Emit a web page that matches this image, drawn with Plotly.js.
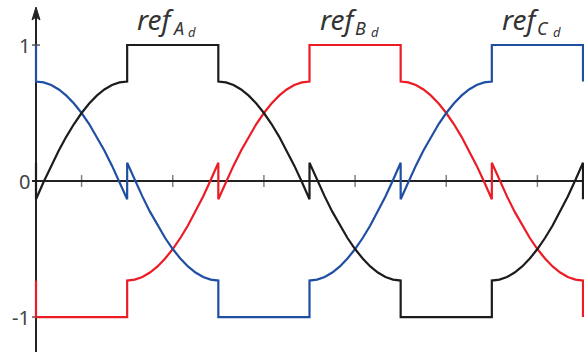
<!DOCTYPE html>
<html>
<head>
<meta charset="utf-8">
<script src="https://cdn.plot.ly/plotly-3.0.1.min.js"></script>
<style>
  html, body { margin: 0; padding: 0; background: #fff; }
  #chart { width: 584px; height: 352px; }
</style>
</head>
<body>
<div id="chart"></div>
<script>
// Electrical angle (degrees); repeated angles mark the jumps between 60° sectors.
const theta = [0,
  0,5,10,15,20,25,30,35,40,45,50,55,60,
  60,65,70,75,80,85,90,95,100,105,110,115,120,
  120,125,130,135,140,145,150,155,160,165,170,175,180,
  180,185,190,195,200,205,210,215,220,225,230,235,240,
  240,245,250,255,260,265,270,275,280,285,290,295,300,
  300,305,310,315,320,325,330,335,340,345,350,355,360,
  360];

// Discontinuous modulation references for the three phases.
const refA = [0.134,
  -0.134,-0.007,0.113,0.225,0.327,0.419,0.500,0.570,0.628,0.673,0.706,0.725,0.732,
  1,1,1,1,1,1,1,1,1,1,1,1,1,
  0.732,0.725,0.706,0.673,0.628,0.570,0.500,0.419,0.327,0.225,0.113,-0.007,-0.134,
  0.134,0.007,-0.113,-0.225,-0.327,-0.419,-0.500,-0.570,-0.628,-0.673,-0.706,-0.725,-0.732,
  -1,-1,-1,-1,-1,-1,-1,-1,-1,-1,-1,-1,-1,
  -0.732,-0.725,-0.706,-0.673,-0.628,-0.570,-0.500,-0.419,-0.327,-0.225,-0.113,0.007,0.134,
  -0.134];

const refB = [-0.732,
  -1,-1,-1,-1,-1,-1,-1,-1,-1,-1,-1,-1,-1,
  -0.732,-0.725,-0.706,-0.673,-0.628,-0.570,-0.500,-0.419,-0.327,-0.225,-0.113,0.007,0.134,
  -0.134,-0.007,0.113,0.225,0.327,0.419,0.500,0.570,0.628,0.673,0.706,0.725,0.732,
  1,1,1,1,1,1,1,1,1,1,1,1,1,
  0.732,0.725,0.706,0.673,0.628,0.570,0.500,0.419,0.327,0.225,0.113,-0.007,-0.134,
  0.134,0.007,-0.113,-0.225,-0.327,-0.419,-0.500,-0.570,-0.628,-0.673,-0.706,-0.725,-0.732,
  -1];

const refC = [1,
  0.732,0.725,0.706,0.673,0.628,0.570,0.500,0.419,0.327,0.225,0.113,-0.007,-0.134,
  0.134,0.007,-0.113,-0.225,-0.327,-0.419,-0.500,-0.570,-0.628,-0.673,-0.706,-0.725,-0.732,
  -1,-1,-1,-1,-1,-1,-1,-1,-1,-1,-1,-1,-1,
  -0.732,-0.725,-0.706,-0.673,-0.628,-0.570,-0.500,-0.419,-0.327,-0.225,-0.113,0.007,0.134,
  -0.134,-0.007,0.113,0.225,0.327,0.419,0.500,0.570,0.628,0.673,0.706,0.725,0.732,
  1,1,1,1,1,1,1,1,1,1,1,1,1,
  0.732];

// Axis ticks and labels
const xTicks = [30, 90, 150, 210, 270, 330];
const yTicks = [1, 0, -1];
const yTickText = ['1', '0', '-1'];
const phaseNames = ['A', 'B', 'C'];

const W = 584, H = 352;
const X0 = -23.69, X1 = 360.66, Y0 = -1.257, Y1 = 1.331;
const pxX = px => px / W;          // paper x from a pixel column
const pxY = py => 1 - py / H;      // paper y from a pixel row

const colors = { A: '#1c1c1c', B: '#ec1c24', C: '#1f4fa3' };
const textFont = 'Noto Sans';

const traces = [
  { x: theta, y: refB, mode: 'lines', line: { color: colors.B, width: 2.2 }, hoverinfo: 'skip' },
  { x: theta, y: refC, mode: 'lines', line: { color: colors.C, width: 2.2 }, hoverinfo: 'skip' },
  { x: theta, y: refA, mode: 'lines', line: { color: colors.A, width: 2.2 }, hoverinfo: 'skip' }
];

const shapes = [];
// x ticks across the horizontal axis
xTicks.forEach(t => shapes.push({
  type: 'line', xref: 'x', yref: 'y', x0: t, x1: t, y0: -0.044, y1: 0.044,
  line: { color: '#808080', width: 1.5 }, layer: 'below'
}));
// y ticks across the vertical axis
yTicks.forEach(v => shapes.push({
  type: 'line', xref: 'x', yref: 'y', x0: -2.6, x1: 2.6, y0: v, y1: v,
  line: { color: '#555', width: 1.5 }, layer: 'below'
}));
// horizontal axis
shapes.push({ type: 'line', xref: 'x', yref: 'y', x0: -2.6, x1: X1, y0: 0, y1: 0,
  line: { color: '#222', width: 2 }, layer: 'below' });
// vertical axis with arrowhead
shapes.push({ type: 'line', xref: 'x', yref: 'paper', x0: 0, x1: 0, y0: 0, y1: pxY(17),
  line: { color: '#222', width: 2 }, layer: 'below' });
shapes.push({ type: 'path', xref: 'paper', yref: 'paper',
  path: `M ${pxX(36)} ${pxY(7)} L ${pxX(40)} ${pxY(20)} L ${pxX(36)} ${pxY(17)} L ${pxX(32)} ${pxY(20)} Z`,
  fillcolor: '#222', line: { color: '#222', width: 1 } });

const annotations = [];
yTicks.forEach((v, i) => annotations.push({
  xref: 'paper', yref: 'y', x: pxX(32), y: v, xanchor: 'right', yanchor: 'middle',
  text: yTickText[i], showarrow: false, font: { family: textFont, size: 20, color: '#444' }
}));

// phase reference labels: ref, phase letter, d
const labelLeft = [135, 318, 500];
phaseNames.forEach((p, i) => {
  const L = labelLeft[i];
  annotations.push({ xref: 'paper', yref: 'paper', x: pxX(L), y: pxY(19), xanchor: 'left', yanchor: 'middle',
    text: '<i>ref</i>', showarrow: false, font: { family: textFont, size: 28, color: '#333' } });
  annotations.push({ xref: 'paper', yref: 'paper', x: pxX(L + 35), y: pxY(28), xanchor: 'left', yanchor: 'middle',
    text: '<i>' + p + '</i>', showarrow: false, font: { family: textFont, size: 18, color: '#333' } });
  annotations.push({ xref: 'paper', yref: 'paper', x: pxX(L + 51), y: pxY(32), xanchor: 'left', yanchor: 'middle',
    text: '<i>d</i>', showarrow: false, font: { family: textFont, size: 13, color: '#333' } });
});

const layout = {
  width: W, height: H,
  margin: { l: 0, r: 0, t: 0, b: 0 },
  paper_bgcolor: '#fff', plot_bgcolor: '#fff',
  showlegend: false,
  xaxis: { range: [X0, X1], showgrid: false, zeroline: false, showticklabels: false, ticks: '', showline: false },
  yaxis: { range: [Y0, Y1], showgrid: false, zeroline: false, showticklabels: false, ticks: '', showline: false },
  shapes: shapes,
  annotations: annotations
};

Plotly.newPlot('chart', traces, layout, { staticPlot: true, displayModeBar: false });
</script>
</body>
</html>
